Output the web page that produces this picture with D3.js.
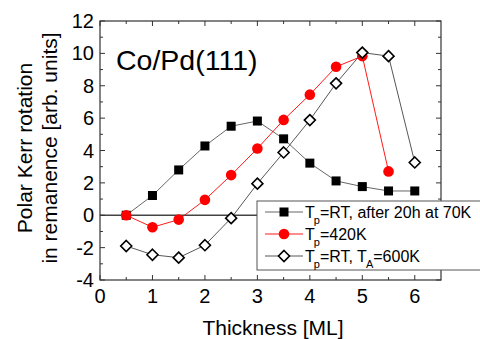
<!DOCTYPE html>
<html>
<head>
<meta charset="utf-8">
<script src="https://cdn.jsdelivr.net/npm/d3@7"></script>
<style>
  body { margin: 0; background: #fff; }
  text { font-family: "Liberation Sans", Arial, sans-serif; fill: #000; }
</style>
</head>
<body>
<div id="chart"></div>
<script>
const thickness = [0.5, 1, 1.5, 2, 2.5, 3, 3.5, 4, 4.5, 5, 5.5, 6];
const rt70K = [0, 1.22, 2.8, 4.28, 5.5, 5.82, 4.72, 3.22, 2.12, 1.77, 1.5, 1.5];
const t420K = [0, -0.74, -0.27, 0.95, 2.48, 4.12, 5.89, 7.45, 9.17, 9.83, 2.71];
const ta600K = [-1.9, -2.44, -2.62, -1.85, -0.18, 1.95, 3.88, 5.88, 8.15, 10.05, 9.83, 3.26];
const xTicks = [0, 1, 2, 3, 4, 5, 6];
const yTicks = [-4, -2, 0, 2, 4, 6, 8, 10, 12];

const width = 480, height = 339;
const margin = { top: 21, right: 39, bottom: 59, left: 100 };

const svg = d3.select("#chart").append("svg")
    .attr("width", width)
    .attr("height", height);

const x = d3.scaleLinear().domain([0, 6.5]).range([margin.left, width - margin.right]);
const y = d3.scaleLinear().domain([-4, 12]).range([height - margin.bottom, margin.top]);

const x0 = x.range()[0], x1 = x.range()[1];
const y0 = y.range()[0], y1 = y.range()[1];

// zero line
svg.append("line")
    .attr("x1", x0).attr("x2", x1)
    .attr("y1", y(0)).attr("y2", y(0))
    .attr("stroke", "#444").attr("stroke-width", 1.3);

// ticks (inward, mirrored)
const xMinor = d3.range(0.5, 6.5, 1);
const yMinor = d3.range(-3, 12, 2);
const tickG = svg.append("g").attr("stroke", "#333").attr("stroke-width", 1);
xTicks.concat(xMinor).forEach(v => {
    const len = Number.isInteger(v) ? 5 : 3;
    tickG.append("line").attr("x1", x(v)).attr("x2", x(v)).attr("y1", y0).attr("y2", y0 - len);
    tickG.append("line").attr("x1", x(v)).attr("x2", x(v)).attr("y1", y1).attr("y2", y1 + len);
});
yTicks.concat(yMinor).forEach(v => {
    const len = yTicks.includes(v) ? 5 : 3;
    tickG.append("line").attr("x1", x0).attr("x2", x0 + len).attr("y1", y(v)).attr("y2", y(v));
    tickG.append("line").attr("x1", x1).attr("x2", x1 - len).attr("y1", y(v)).attr("y2", y(v));
});

// frame
svg.append("rect")
    .attr("x", x0).attr("y", y1)
    .attr("width", x1 - x0).attr("height", y0 - y1)
    .attr("fill", "none").attr("stroke", "#333").attr("stroke-width", 1.2);

// tick labels
svg.append("g").selectAll("text").data(xTicks).join("text")
    .attr("x", d => x(d)).attr("y", y0 + 23)
    .attr("text-anchor", "middle").attr("font-size", 20)
    .text(d => d);
svg.append("g").selectAll("text").data(yTicks).join("text")
    .attr("x", x0 - 6).attr("y", d => y(d) + 7)
    .attr("text-anchor", "end").attr("font-size", 20)
    .text(d => d);

// axis titles
svg.append("text")
    .attr("x", 273).attr("y", 335)
    .attr("text-anchor", "middle").attr("font-size", 21)
    .text("Thickness [ML]");
const yTitle = svg.append("text")
    .attr("transform", "translate(0,148) rotate(-90)")
    .attr("text-anchor", "middle").attr("font-size", 21);
yTitle.append("tspan").attr("x", 0).attr("y", 32).text("Polar Kerr rotation");
yTitle.append("tspan").attr("x", 0).attr("y", 57).text("in remanence [arb. units]");

svg.append("text")
    .attr("x", 116).attr("y", 70).attr("font-size", 28.5)
    .text("Co/Pd(111)");

// series
const series = [
    { values: rt70K, line: "#555", shape: "square" },
    { values: t420K, line: "#f00", shape: "circle" },
    { values: ta600K, line: "#444", shape: "diamond" }
];

const lineGen = d3.line().x(d => x(d[0])).y(d => y(d[1]));

function drawMarker(g, shape, cx, cy) {
    if (shape === "square") {
        g.append("rect").attr("x", cx - 4.5).attr("y", cy - 4.5)
            .attr("width", 9).attr("height", 9).attr("fill", "#000");
    } else if (shape === "circle") {
        g.append("circle").attr("cx", cx).attr("cy", cy).attr("r", 5.3).attr("fill", "#f00");
    } else {
        const r = 5.5;
        g.append("path")
            .attr("d", `M${cx},${cy - r}L${cx + r},${cy}L${cx},${cy + r}L${cx - r},${cy}Z`)
            .attr("fill", "#fff").attr("stroke", "#000").attr("stroke-width", 1.6);
    }
}

series.forEach(s => {
    const pts = s.values.map((v, i) => [thickness[i], v]);
    svg.append("path").datum(pts)
        .attr("d", lineGen)
        .attr("fill", "none").attr("stroke", s.line).attr("stroke-width", 0.9);
    const g = svg.append("g");
    pts.forEach(p => drawMarker(g, s.shape, x(p[0]), y(p[1])));
});

// legend
const leg = svg.append("g");
leg.append("rect")
    .attr("x", 257).attr("y", 201).attr("width", 240).attr("height", 69)
    .attr("fill", "#fff").attr("stroke", "#555").attr("stroke-width", 1);

const legendItems = [
    { shape: "square", line: "#555", sub: "p", rest: "=RT, after 20h at 70K" },
    { shape: "circle", line: "#f00", sub: "p", rest: "=420K" },
    { shape: "diamond", line: "#444", sub: "p", rest: "=RT, T", sub2: "A", rest2: "=600K" }
];
const rowY = [212, 234, 256];
legendItems.forEach((it, i) => {
    const cy = rowY[i];
    leg.append("line").attr("x1", 265).attr("x2", 303).attr("y1", cy).attr("y2", cy)
        .attr("stroke", it.line).attr("stroke-width", 0.9);
    drawMarker(leg, it.shape, 284, cy);
    const t = leg.append("text").attr("x", 305).attr("y", cy + 6).attr("font-size", 16);
    t.append("tspan").text("T");
    t.append("tspan").attr("font-size", 11).attr("dy", 6).attr("dx", -1).text(it.sub);
    t.append("tspan").attr("dy", -6).text(it.rest);
    if (it.sub2) {
        t.append("tspan").attr("font-size", 11).attr("dy", 6).attr("dx", -1).text(it.sub2);
        t.append("tspan").attr("dy", -6).text(it.rest2);
    }
});
</script>
</body>
</html>
